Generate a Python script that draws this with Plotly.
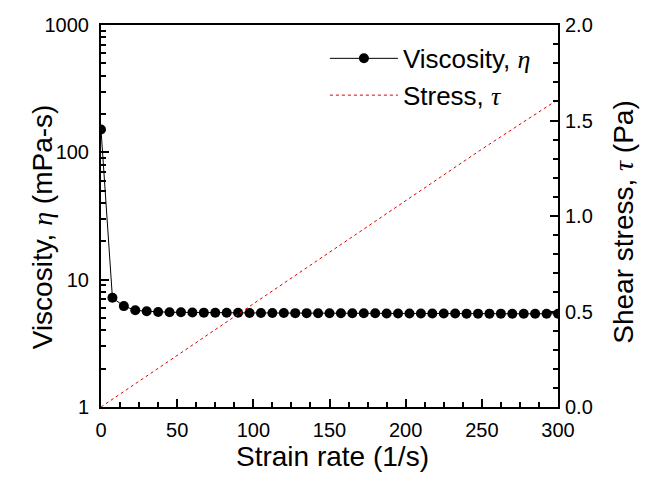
import plotly.graph_objects as go

strain_rate = [0, 7.5, 15, 22.5, 30, 37.5, 45, 52.5, 60, 67.5, 75, 82.5, 90, 97.5,
               105, 112.5, 120, 127.5, 135, 142.5, 150, 157.5, 165, 172.5, 180, 187.5,
               195, 202.5, 210, 217.5, 225, 232.5, 240, 247.5, 255, 262.5, 270, 277.5,
               285, 292.5, 300]
viscosity = [151, 7.2, 6.2, 5.75, 5.65, 5.58, 5.55, 5.54, 5.52, 5.51, 5.50, 5.50,
             5.49, 5.48, 5.48, 5.47, 5.47, 5.46, 5.46, 5.45, 5.45, 5.45, 5.44, 5.44,
             5.44, 5.43, 5.43, 5.43, 5.42, 5.42, 5.42, 5.42, 5.41, 5.41, 5.41, 5.41,
             5.40, 5.40, 5.40, 5.40, 5.40]
stress_rate = [0, 50, 100, 150, 200, 250, 300]
stress = [0.0, 0.27, 0.54, 0.81, 1.08, 1.35, 1.61]

x_title = "Strain rate (1/s)"
y_title_left = "Viscosity, {eta} (mPa-s)"
y_title_right = "Shear stress, {tau} (Pa)"

SANS = "Liberation Sans, Arial, sans-serif"
SERIF = "Liberation Serif, Times New Roman, serif"

def greek(ch):
    return f"<span style='font-family:{SERIF}'><i>{ch}</i></span>"

ETA, TAU = greek("η"), greek("τ")

fig = go.Figure()
fig.add_trace(go.Scatter(
    x=strain_rate, y=viscosity, mode="lines+markers",
    name="Viscosity, " + ETA,
    line=dict(color="black", width=1),
    marker=dict(color="black", size=10, symbol="circle"),
    yaxis="y"))
fig.add_trace(go.Scatter(
    x=stress_rate, y=stress, mode="lines",
    name="Stress, " + TAU,
    line=dict(color="#e00000", width=1, dash="dot"),
    yaxis="y2"))

TICKFONT = dict(family=SANS, size=20, color="black")

# page body adds an 8 px offset; figure is sized/margined to compensate
fig.update_layout(
    width=660, height=479,
    margin=dict(l=93, r=110, t=17, b=79.5),
    paper_bgcolor="white", plot_bgcolor="white",
    font=dict(family=SANS, color="black", size=27),
    showlegend=True,
    legend=dict(x=0.490, y=0.974, xanchor="left", yanchor="top",
                bgcolor="rgba(0,0,0,0)", font=dict(size=26, family=SANS),
                tracegroupgap=0, itemwidth=68),
    xaxis=dict(range=[0, 300], dtick=50, tick0=0, automargin=False,
               showline=True, linecolor="black", linewidth=2, mirror=True,
               ticks="inside", ticklen=8, tickwidth=2, tickcolor="black",
               minor=dict(ticks="inside", dtick=12.5, ticklen=5, tickwidth=2, tickcolor="black"),
               showgrid=False, zeroline=False,
               tickfont=TICKFONT, ticklabelstandoff=4),
    yaxis=dict(type="log", range=[0, 3], automargin=False,
               tickvals=[1, 10, 100, 1000], ticktext=["1", "10", "100", "1000"],
               showline=True, linecolor="black", linewidth=2, mirror=True,
               ticks="inside", ticklen=8, tickwidth=2, tickcolor="black",
               minor=dict(ticks="inside", ticklen=5, tickwidth=2, tickcolor="black",
                          tickvals=[2, 3, 4, 5, 6, 7, 8, 9, 20, 30, 40, 50, 60, 70, 80, 90,
                                    200, 300, 400, 500, 600, 700, 800, 900]),
               showgrid=False, zeroline=False,
               tickfont=TICKFONT, ticklabelstandoff=6),
    yaxis2=dict(overlaying="y", side="right", range=[0, 2], dtick=0.5, tick0=0,
                tickformat=".1f", automargin=False,
                showline=False,
                ticks="inside", ticklen=8, tickwidth=2, tickcolor="black",
                minor=dict(ticks="inside", dtick=0.1, ticklen=5, tickwidth=2, tickcolor="black"),
                showgrid=False, zeroline=False,
                tickfont=TICKFONT, ticklabelstandoff=6),
    annotations=[
        dict(text=x_title, xref="paper", yref="paper", x=0.5066, y=-0.1307,
             xanchor="center", yanchor="middle", showarrow=False,
             font=dict(size=28, family=SANS)),
        dict(text=y_title_left.format(eta=ETA), xref="paper", yref="paper",
             x=-0.129, y=0.4706, textangle=-90,
             xanchor="center", yanchor="middle", showarrow=False,
             font=dict(size=28, family=SANS)),
        dict(text=y_title_right.format(tau=TAU), xref="paper", yref="paper",
             x=1.1444, y=0.485, textangle=-90,
             xanchor="center", yanchor="middle", showarrow=False,
             font=dict(size=28, family=SANS)),
    ],
)

fig.write_html("out.html")
